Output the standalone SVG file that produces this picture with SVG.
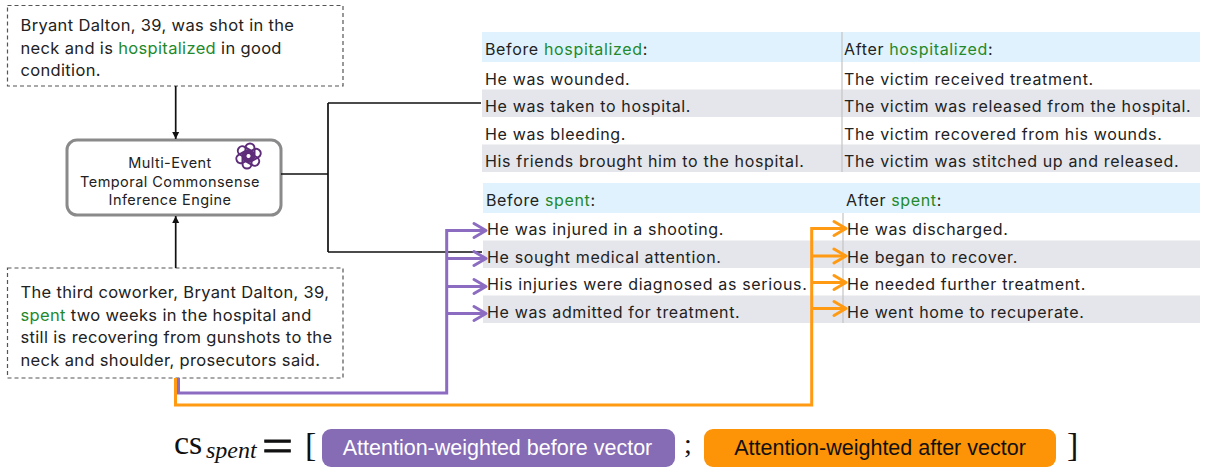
<svg xmlns="http://www.w3.org/2000/svg" width="1209" height="470" viewBox="0 0 1209 470">
<style>
.t{font-family:Inter,"Noto Sans","DejaVu Sans",sans-serif;fill:#222}
.box{font-size:16.5px;letter-spacing:0.34px}
.eng{font-size:14.5px;letter-spacing:0.45px;text-anchor:middle}
.tb{font-size:16px;letter-spacing:0.65px}
.g{fill:#23892a}
.dash{fill:#fff;stroke:#555;stroke-width:1.2;stroke-dasharray:4 3}
.hdr{fill:#e0f2fd}
.gr{fill:#e5e6eb}
.div{stroke:#c4c4c4;stroke-width:1.2}
.blk{fill:none;stroke:#111;stroke-width:1.7}
.pur{fill:none;stroke:#8b6cc1;stroke-width:3}
.org{fill:none;stroke:#ff9a12;stroke-width:3}
.ser{font-family:"Liberation Serif","Times New Roman",serif;fill:#111}
.btn{font-family:"Liberation Sans",Arial,sans-serif;font-size:21.5px;text-anchor:middle}
</style>
<defs>
<marker id="ah" markerUnits="userSpaceOnUse" markerWidth="10" markerHeight="10" viewBox="-8 -5 10 10" refX="0" refY="0" orient="auto">
<path d="M-7,-3.5 L0,0 L-7,3.5 Z" fill="#111"/>
</marker>
<marker id="cp" markerUnits="userSpaceOnUse" markerWidth="20" markerHeight="20" viewBox="-16 -10 20 20" refX="0" refY="0" orient="auto">
<path d="M-12,-7 L0,0 L-12,7" fill="none" stroke="#8b6cc1" stroke-width="3" stroke-linecap="round" stroke-linejoin="round"/>
</marker>
<marker id="co" markerUnits="userSpaceOnUse" markerWidth="20" markerHeight="20" viewBox="-16 -10 20 20" refX="0" refY="0" orient="auto">
<path d="M-12,-7 L0,0 L-12,7" fill="none" stroke="#ff9a12" stroke-width="3" stroke-linecap="round" stroke-linejoin="round"/>
</marker>
</defs>
<rect width="1209" height="470" fill="#fff"/>

<g id="context-top">
<rect class="dash" x="7.5" y="5.5" width="335.5" height="80.5"/>
<text class="t box" x="20.5" y="31">Bryant Dalton, 39, was shot in the</text>
<text class="t box" x="20.5" y="53.5">neck and is <tspan class="g">hospitalized</tspan> in good</text>
<text class="t box" x="20.5" y="75.5">condition.</text>
</g>

<g id="engine">
<rect x="67" y="140" width="214" height="75" rx="10" fill="#fff" stroke="#8a8a8a" stroke-width="3"/>
<text class="t eng" x="170" y="168">Multi-Event</text>
<text class="t eng" x="170" y="186.5">Temporal Commonsense</text>
<text class="t eng" x="170" y="204.5">Inference Engine</text>
<g transform="translate(248.5,156)" fill="none" stroke="#5e2d79" stroke-width="2">
<rect x="-3" y="-12.5" width="9" height="17" rx="4.5" transform="rotate(0)"/>
<rect x="-3" y="-12.5" width="9" height="17" rx="4.5" transform="rotate(60)"/>
<rect x="-3" y="-12.5" width="9" height="17" rx="4.5" transform="rotate(120)"/>
<rect x="-3" y="-12.5" width="9" height="17" rx="4.5" transform="rotate(180)"/>
<rect x="-3" y="-12.5" width="9" height="17" rx="4.5" transform="rotate(240)"/>
<rect x="-3" y="-12.5" width="9" height="17" rx="4.5" transform="rotate(300)"/>
</g>
</g>

<g id="context-bottom">
<rect class="dash" x="7.5" y="268" width="335.5" height="110"/>
<text class="t box" x="20.5" y="298">The third coworker, Bryant Dalton, 39,</text>
<text class="t box" x="20.5" y="320.5"><tspan class="g">spent</tspan> two weeks in the hospital and</text>
<text class="t box" x="20.5" y="343">still is recovering from gunshots to the</text>
<text class="t box" x="20.5" y="365.5">neck and shoulder, prosecutors said.</text>
</g>

<g id="table-hospitalized">
<rect class="hdr" x="482" y="32" width="718" height="30"/>
<rect class="gr" x="482" y="89.5" width="718" height="27.5"/>
<rect class="gr" x="482" y="144.5" width="718" height="27.5"/>
<line class="div" x1="842" y1="32" x2="842" y2="172"/>
<text class="t tb" x="485" y="54.5">Before <tspan class="g">hospitalized</tspan>:</text>
<text class="t tb" x="844" y="54.5">After <tspan class="g">hospitalized</tspan>:</text>
<text class="t tb" x="485" y="84.5">He was wounded.</text>
<text class="t tb" x="485" y="112">He was taken to hospital.</text>
<text class="t tb" x="485" y="139.5">He was bleeding.</text>
<text class="t tb" x="485" y="167">His friends brought him to the hospital.</text>
<text class="t tb" x="844" y="84.5">The victim received treatment.</text>
<text class="t tb" x="844" y="112">The victim was released from the hospital.</text>
<text class="t tb" x="844" y="139.5">The victim recovered from his wounds.</text>
<text class="t tb" x="844" y="167">The victim was stitched up and released.</text>
</g>

<g id="table-spent">
<rect class="hdr" x="483" y="183" width="717" height="30"/>
<rect class="gr" x="483" y="240.5" width="717" height="27.5"/>
<rect class="gr" x="483" y="295.5" width="717" height="27.5"/>
<line class="div" x1="843" y1="213" x2="843" y2="323"/>
<text class="t tb" x="486" y="205.5">Before <tspan class="g">spent</tspan>:</text>
<text class="t tb" x="846" y="205.5">After <tspan class="g">spent</tspan>:</text>
<text class="t tb" x="487" y="235">He was injured in a shooting.</text>
<text class="t tb" x="487" y="262.5">He sought medical attention.</text>
<text class="t tb" x="487" y="290">His injuries were diagnosed as serious.</text>
<text class="t tb" x="487" y="317.5">He was admitted for treatment.</text>
<text class="t tb" x="847" y="235">He was discharged.</text>
<text class="t tb" x="847" y="262.5">He began to recover.</text>
<text class="t tb" x="847" y="290">He needed further treatment.</text>
<text class="t tb" x="847" y="317.5">He went home to recuperate.</text>
</g>

<g id="formula">
<text class="ser" x="174" y="453.5" font-size="34">cs</text>
<text class="ser" x="206" y="458" font-size="24" font-style="italic">spent</text>
<text class="ser" x="262" y="461" font-size="46" stroke="#111" stroke-width="0.8" textLength="31" lengthAdjust="spacingAndGlyphs">=</text>
<text class="ser" x="305" y="456" font-size="34">[</text>
<rect x="322" y="429" width="353" height="38" rx="9" fill="#866bb5"/>
<text class="btn" x="497.5" y="455" fill="#fff">Attention-weighted before vector</text>
<text class="ser" x="684" y="453" font-size="28">;</text>
<rect x="704" y="429" width="352" height="38" rx="9" fill="#fd9306"/>
<text class="btn" x="880" y="455" fill="#111">Attention-weighted after vector</text>
<text class="ser" x="1067" y="456" font-size="34">]</text>
</g>

<g id="connectors">
<path class="blk" d="M175.7,86 V139" marker-end="url(#ah)"/>
<path class="blk" d="M175.7,268 V216" marker-end="url(#ah)"/>
<path class="blk" d="M281,174 H328 M328,103 V252 M328,103 H481 M328,252 H482"/>
<path class="pur" d="M178.5,378 V393 H446.7 V230.5 H486" marker-end="url(#cp)"/>
<path class="pur" d="M446.7,258.5 H486" marker-end="url(#cp)"/>
<path class="pur" d="M446.7,286.5 H486" marker-end="url(#cp)"/>
<path class="pur" d="M446.7,313.5 H486" marker-end="url(#cp)"/>
<path class="org" d="M175.5,378 V405 H811.7 V228.5 H846" marker-end="url(#co)"/>
<path class="org" d="M811.7,256 H846" marker-end="url(#co)"/>
<path class="org" d="M811.7,282.5 H846" marker-end="url(#co)"/>
<path class="org" d="M811.7,308.5 H846" marker-end="url(#co)"/>
</g>
</svg>
